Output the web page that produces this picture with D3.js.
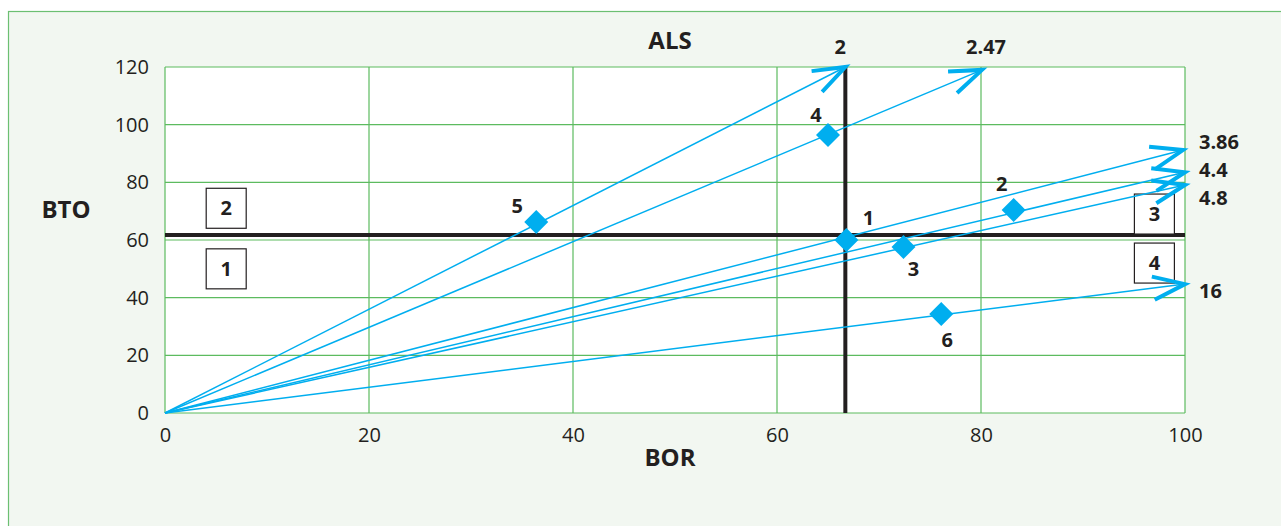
<!DOCTYPE html>
<html><head><meta charset="utf-8">
<script src="https://cdn.jsdelivr.net/npm/d3@7"></script>
<style>html,body{margin:0;padding:0;background:#fff;}svg{display:block;font-family:"Open Sans","Noto Sans",sans-serif;}</style>
</head><body><svg id="c" width="1281" height="526"></svg>
<script>
// Data
const xTicks = [0, 20, 40, 60, 80, 100];
const yTicks = [0, 20, 40, 60, 80, 100, 120];
const arrowLabels = ["2", "2.47", "3.86", "4.4", "4.8", "16"];
const arrowX = [66.7, 80.1, 99.8, 100, 100, 100];
const arrowY = [120, 119, 91.2, 83.5, 79.1, 44.7];
const pointLabels = ["1", "2", "3", "4", "5", "6"];
const pointX = [66.8, 83.2, 72.4, 65.0, 36.4, 76.1];
const pointY = [60.0, 70.4, 57.6, 96.4, 66.2, 34.3];
const refX = 66.7, refY = 61.7;
const quadrants = ["1", "2", "3", "4"];
const quadX = [6.0, 6.0, 97.0, 97.0];
const quadY = [50, 71, 69, 52];

const svg = d3.select("#c");
const W = 1281, H = 526;
const blue = "#00aeef", green = "#5cbb5f", dark = "#231f20";

svg.append("rect").attr("x", 8.5).attr("y", 11.5).attr("width", W + 20).attr("height", H + 20)
  .attr("fill", "#f2f7f1").attr("stroke", "#6cbf72").attr("stroke-width", 1.2);

const x = d3.scaleLinear().domain([0, 100]).range([165, 1185]);
const y = d3.scaleLinear().domain([0, 120]).range([413, 67]);

svg.append("rect").attr("x", x(0)).attr("y", y(120)).attr("width", x(100) - x(0)).attr("height", y(0) - y(120)).attr("fill", "#fff");

// grid
svg.append("g").selectAll("line").data(xTicks).join("line")
  .attr("x1", d => x(d)).attr("x2", d => x(d)).attr("y1", y(0)).attr("y2", y(120))
  .attr("stroke", green).attr("stroke-width", 1.2);
svg.append("g").selectAll("line").data(yTicks).join("line")
  .attr("x1", x(0)).attr("x2", x(100)).attr("y1", d => y(d)).attr("y2", d => y(d))
  .attr("stroke", green).attr("stroke-width", 1.2);

// axes
const xAxis = svg.append("g").attr("transform", `translate(0,${y(0)})`)
  .call(d3.axisBottom(x).tickValues(xTicks).tickSize(0).tickPadding(15));
const yAxis = svg.append("g").attr("transform", `translate(${x(0)},0)`)
  .call(d3.axisLeft(y).tickValues(yTicks).tickSize(0).tickPadding(16));
[xAxis, yAxis].forEach(a => {
  a.select(".domain").remove();
  a.selectAll("text").attr("font-size", 20).attr("fill", dark).attr("font-family", '"Open Sans",sans-serif');
});

// reference lines
svg.append("line").attr("x1", x(0)).attr("x2", x(100)).attr("y1", y(refY)).attr("y2", y(refY)).attr("stroke", dark).attr("stroke-width", 4);
svg.append("line").attr("x1", x(refX)).attr("x2", x(refX)).attr("y1", y(0)).attr("y2", y(120)).attr("stroke", dark).attr("stroke-width", 4);

// quadrant boxes
const qg = svg.append("g").selectAll("g").data(quadrants).join("g")
  .attr("transform", (d, i) => `translate(${x(quadX[i])},${y(quadY[i])})`);
qg.append("rect").attr("x", -20).attr("y", -20).attr("width", 40).attr("height", 40)
  .attr("fill", "#fff").attr("stroke", dark).attr("stroke-width", 1.2);
qg.append("text").attr("text-anchor", "middle").attr("dy", "0.36em").attr("font-size", 20).attr("font-weight", "bold").attr("fill", dark).text(d => d);

// arrows
const ag = svg.append("g");
arrowLabels.forEach((lab, i) => {
  const x0 = x(0), y0 = y(0), x1 = x(arrowX[i]), y1 = y(arrowY[i]);
  ag.append("line").attr("x1", x0).attr("y1", y0).attr("x2", x1).attr("y2", y1).attr("stroke", blue).attr("stroke-width", 1.5);
  const ang = Math.atan2(y0 - y1, x0 - x1);
  const L = 34, s = 20 * Math.PI / 180;
  const p1 = [x1 + L * Math.cos(ang - s), y1 + L * Math.sin(ang - s)];
  const p2 = [x1 + L * Math.cos(ang + s), y1 + L * Math.sin(ang + s)];
  ag.append("path").attr("d", `M${p1}L${x1},${y1}L${p2}`).attr("fill", "none").attr("stroke", blue).attr("stroke-width", 4).attr("stroke-linejoin", "miter");
});
const alPos = [[-5, -20, "middle"], [4, -23, "middle"], [16, -8, "start"], [14, -2, "start"], [14, 13, "start"], [14, 7, "start"]];
svg.append("g").selectAll("text").data(arrowLabels).join("text")
  .attr("x", (d, i) => x(arrowX[i]) + alPos[i][0]).attr("y", (d, i) => y(arrowY[i]) + alPos[i][1])
  .attr("text-anchor", (d, i) => alPos[i][2]).attr("dy", "0.35em")
  .attr("font-size", 20).attr("font-weight", "bold").attr("fill", dark).text(d => d);

// points
svg.append("g").selectAll("path").data(pointLabels).join("path")
  .attr("transform", (d, i) => `translate(${x(pointX[i])},${y(pointY[i])})`)
  .attr("d", "M0,-12L12,0L0,12L-12,0Z").attr("fill", blue);
const plPos = [[22, -22], [-12, -26], [10, 22], [-12, -20], [-19, -16], [6, 26]];
svg.append("g").selectAll("text").data(pointLabels).join("text")
  .attr("x", (d, i) => x(pointX[i]) + plPos[i][0]).attr("y", (d, i) => y(pointY[i]) + plPos[i][1])
  .attr("text-anchor", "middle").attr("dy", "0.35em")
  .attr("font-size", 20).attr("font-weight", "bold").attr("fill", dark).text(d => d);

// axis titles
svg.append("text").attr("x", 670).attr("y", 41).attr("text-anchor", "middle").attr("dy", "0.35em").attr("font-size", 24).attr("font-weight", "bold").attr("fill", dark).text("ALS");
svg.append("text").attr("x", 66).attr("y", 210).attr("text-anchor", "middle").attr("dy", "0.35em").attr("font-size", 24).attr("font-weight", "bold").attr("fill", dark).text("BTO");
svg.append("text").attr("x", 670).attr("y", 458).attr("text-anchor", "middle").attr("dy", "0.35em").attr("font-size", 24).attr("font-weight", "bold").attr("fill", dark).text("BOR");
</script></body></html>
